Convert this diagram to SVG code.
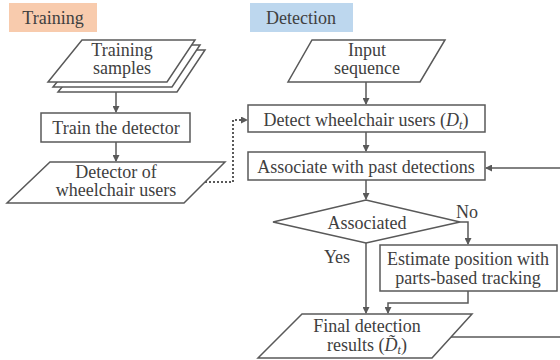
<svg xmlns="http://www.w3.org/2000/svg" width="560" height="360" viewBox="0 0 560 360">
<style>
.s{fill:#fff;stroke:#595959;stroke-width:1.5}
.c{fill:none;stroke:#595959;stroke-width:1.5}
.d{fill:none;stroke:#595959;stroke-width:2;stroke-dasharray:2 2}
text{font-family:"Liberation Serif","Times New Roman",serif;font-size:18px;fill:#404040;text-anchor:middle}
.m{font-style:italic}
</style>
<defs>
<marker id="a" markerUnits="userSpaceOnUse" markerWidth="7" markerHeight="7" refX="6" refY="3.5" orient="auto">
<path d="M0,0 L7,3.5 L0,7 Z" fill="#595959"/>
</marker>
</defs>
<rect width="560" height="360" fill="#fff"/>
<g id="label-training"><rect x="9" y="3" width="88" height="29" fill="#f8cbad"/><text x="53" y="24">Training</text></g>
<g id="label-detection"><rect x="250" y="3" width="103" height="29" fill="#bdd7ee"/><text x="301" y="24">Detection</text></g>

<g id="connectors">
<path class="c" d="M116,92 V112" marker-end="url(#a)"/>
<path class="c" d="M116,142 V161" marker-end="url(#a)"/>
<path class="d" d="M205,182 H233 V120 H247" marker-end="url(#a)"/>
<path class="c" d="M366,82 V104" marker-end="url(#a)"/>
<path class="c" d="M366,132 V151" marker-end="url(#a)"/>
<path class="c" d="M366,180 V199" marker-end="url(#a)"/>
<path class="c" d="M560,168 H486" marker-end="url(#a)"/>
<path class="c" d="M460,222 H468 V244" marker-end="url(#a)"/>
<path class="c" d="M366,243 V313" marker-end="url(#a)"/>
<path class="c" d="M468,291 V303 H388 V313" marker-end="url(#a)"/>
<path class="c" d="M451,337 H560"/>
<text x="467" y="218">No</text>
<text x="337" y="263">Yes</text>
</g>

<g id="training-samples">
<polygon class="s" points="92,50 205,50 177,92 58,92"/>
<polygon class="s" points="87,45 200,45 172,87 53,87"/>
<polygon class="s" points="82,40 195,40 167,82 48,82"/>
<text x="122" y="56">Training</text>
<text x="122" y="74">samples</text>
</g>
<g id="train-detector">
<rect class="s" x="41" y="113" width="149" height="29"/>
<text x="116" y="134">Train the detector</text>
</g>
<g id="detector">
<polygon class="s" points="50,162 225,162 184,203 7,203"/>
<text x="116" y="178">Detector of</text>
<text x="116" y="196">wheelchair users</text>
</g>

<g id="input-sequence">
<polygon class="s" points="312,40 445,40 420,82 288,82"/>
<text x="367" y="56">Input</text>
<text x="367" y="74">sequence</text>
</g>
<g id="detect">
<rect class="s" x="248" y="105" width="237" height="27"/>
<text x="366" y="126">Detect wheelchair users (<tspan class="m">D</tspan><tspan class="m" font-size="12" dy="3">t</tspan><tspan dy="-3">)</tspan></text>
</g>
<g id="associate">
<rect class="s" x="248" y="152" width="237" height="28"/>
<text x="366" y="173">Associate with past detections</text>
</g>
<g id="associated">
<polygon class="s" points="273,222 366,200 460,222 366,243"/>
<text x="367" y="229">Associated</text>
</g>
<g id="estimate">
<rect class="s" x="380" y="245" width="177" height="46"/>
<text x="468" y="265">Estimate position with</text>
<text x="468" y="284">parts-based tracking</text>
</g>
<g id="final">
<polygon class="s" points="302,314 472,314 432,358 258,358"/>
<text x="367" y="332">Final detection</text>
<text x="367" y="351">results (<tspan class="m">D̃</tspan><tspan class="m" font-size="12" dy="3">t</tspan><tspan dy="-3">)</tspan></text>
</g>
</svg>
